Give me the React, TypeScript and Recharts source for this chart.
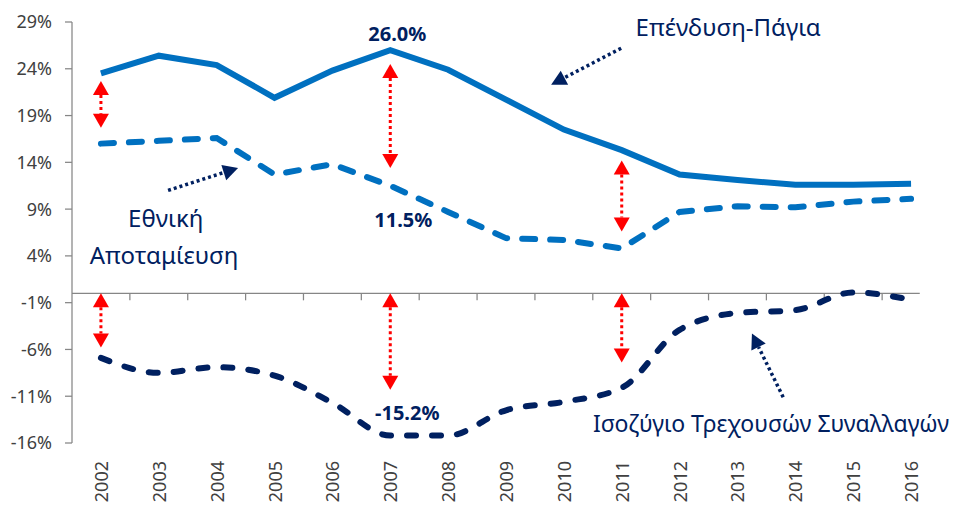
import React from 'react';
import { LineChart, Line, XAxis, YAxis, ReferenceLine, ReferenceDot } from 'recharts';

const YEARS = [2002, 2003, 2004, 2005, 2006, 2007, 2008, 2009, 2010, 2011, 2012, 2013, 2014, 2015, 2016];
// Επένδυση-Πάγια (% ΑΕΠ)
const INVESTMENT = [23.5, 25.4, 24.4, 20.9, 23.8, 26.0, 23.9, 20.7, 17.5, 15.3, 12.7, 12.1, 11.6, 11.6, 11.7];
// Εθνική Αποταμίευση
const SAVINGS = [16.0, 16.3, 16.6, 12.7, 13.8, 11.5, 8.7, 5.9, 5.7, 4.8, 8.7, 9.3, 9.2, 9.8, 10.1];
// Ισοζύγιο Τρεχουσών Συναλλαγών
const CURRENT_ACCOUNT = [-6.9, -8.5, -7.9, -8.8, -11.7, -15.2, -15.2, -12.5, -11.6, -10.1, -3.9, -2.1, -1.8, 0.1, -0.7];
const Y_TICKS = [-16, -11, -6, -1, 4, 9, 14, 19, 24, 29];

// red double arrows showing the gaps
const GAP_ARROWS = [
  { year: 2002, top: 22.7, bottom: 17.7 },
  { year: 2007, top: 24.5, bottom: 13.4 },
  { year: 2011, top: 14.2, bottom: 6.6 },
  { year: 2002, top: 0, bottom: -5.8 },
  { year: 2007, top: 0, bottom: -10.3 },
  { year: 2011, top: 0, bottom: -7.4 },
];

// dotted pointers from the labels to the lines
const POINTERS = [
  { x1: 2010.99, y1: 26.2, x2: 2009.78, y2: 22.3 },
  { x1: 2003.16, y1: 11.0, x2: 2004.37, y2: 13.4 },
  { x1: 2013.79, y1: -11.1, x2: 2013.25, y2: -4.3 },
];

const SERIES_NAMES = [
  { x: 2012.84, y: 27.5, text: 'Επένδυση-Πάγια', size: 24 },
  { x: 2003.12, y: 7.1, text: 'Εθνική', size: 24 },
  { x: 2003.09, y: 3.15, text: 'Αποταμίευση', size: 24 },
  { x: 2013.58, y: -14.8, text: 'Ισοζύγιο Τρεχουσών Συναλλαγών', size: 23 },
];

const VALUE_NOTES = [
  { values: INVESTMENT, year: 2007, dx: 7, dy: -9 },
  { values: SAVINGS, year: 2007, dx: 13, dy: 41 },
  { values: CURRENT_ACCOUNT, year: 2007, dx: 17, dy: -16 },
];

const data = YEARS.map((year, i) => ({
  year,
  investment: INVESTMENT[i],
  savings: SAVINGS[i],
  current: CURRENT_ACCOUNT[i],
}));

const FONT = '"Noto Sans", "Open Sans", sans-serif';
const BLUE = '#0070C0';
const NAVY = '#002060';
const GRID = '#868686';

const head = (fx: number, fy: number, tx: number, ty: number, len: number, half: number) => {
  const d = Math.hypot(tx - fx, ty - fy) || 1;
  const ux = (tx - fx) / d;
  const uy = (ty - fy) / d;
  const bx = tx - ux * len;
  const by = ty - uy * len;
  const pts = `${tx},${ty} ${bx - uy * half},${by + ux * half} ${bx + uy * half},${by - ux * half}`;
  return { bx, by, pts };
};

const DoubleArrow = (p: any) => {
  const a = head(p.x2, p.y2, p.x1, p.y1, 14, 8);
  const b = head(p.x1, p.y1, p.x2, p.y2, 14, 8);
  return (
    <g>
      <line x1={a.bx} y1={a.by} x2={b.bx} y2={b.by} stroke="#FF0000" strokeWidth={3} strokeDasharray="3 3" />
      <polygon points={a.pts} fill="#FF0000" />
      <polygon points={b.pts} fill="#FF0000" />
    </g>
  );
};

const Pointer = (p: any) => {
  const b = head(p.x1, p.y1, p.x2, p.y2, 15, 8);
  return (
    <g>
      <line x1={p.x1} y1={p.y1} x2={b.bx} y2={b.by} stroke={NAVY} strokeWidth={3.5} strokeDasharray="3 3" />
      <polygon points={b.pts} fill={NAVY} />
    </g>
  );
};

const YearTick = ({ x, y, payload }: any) => (
  <text
    x={x}
    y={y}
    transform={`rotate(-90, ${x}, ${y})`}
    textAnchor="end"
    dominantBaseline="central"
    fill="#404040"
    fontSize={18}
    fontFamily={FONT}
  >
    {payload.value}
  </text>
);

export default function App() {
  return (
    <div style={{ position: 'absolute', left: 0, top: 0, background: '#fff' }}>
      <LineChart width={959} height={506} data={data} margin={{ top: 22, right: 19, bottom: 0, left: 0 }}>
        <XAxis
          dataKey="year"
          type="number"
          domain={[2001.5, 2016.5]}
          ticks={YEARS}
          axisLine={false}
          tickLine={false}
          tickMargin={12}
          height={63}
          tick={<YearTick />}
        />
        <YAxis
          type="number"
          domain={[-16, 29]}
          ticks={Y_TICKS}
          width={72}
          tickSize={7}
          tickMargin={13}
          axisLine={{ stroke: GRID, strokeWidth: 1.25 }}
          tickLine={{ stroke: GRID, strokeWidth: 1.25 }}
          tick={{ fill: '#404040', fontSize: 18, fontFamily: FONT }}
          tickFormatter={(v: number) => `${v}%`}
        />
        <ReferenceLine
          segment={[{ x: 2001.5, y: 0 }, { x: 2016.15, y: 0 }]}
          stroke={GRID}
          strokeWidth={1.25}
        />
        {YEARS.slice(0, -1).map((yr) => (
          <ReferenceLine
            key={`t${yr}`}
            segment={[{ x: yr + 0.5, y: 0 }, { x: yr + 0.5, y: -0.75 }]}
            stroke={GRID}
            strokeWidth={1.25}
          />
        ))}
        <Line
          dataKey="investment"
          type="linear"
          stroke={BLUE}
          strokeWidth={6}
          dot={false}
          isAnimationActive={false}
        />
        <Line
          dataKey="savings"
          type="linear"
          stroke={BLUE}
          strokeWidth={6}
          strokeDasharray="13 15"
          strokeLinecap="round"
          dot={false}
          isAnimationActive={false}
        />
        <Line
          dataKey="current"
          type="monotone"
          stroke={NAVY}
          strokeWidth={6}
          strokeDasharray="9 16"
          strokeLinecap="round"
          dot={false}
          isAnimationActive={false}
        />
        {GAP_ARROWS.map((g, i) => (
          <ReferenceLine
            key={`g${i}`}
            segment={[{ x: g.year, y: g.top }, { x: g.year, y: g.bottom }]}
            shape={DoubleArrow}
          />
        ))}
        {POINTERS.map((p, i) => (
          <ReferenceLine
            key={`p${i}`}
            segment={[{ x: p.x1, y: p.y1 }, { x: p.x2, y: p.y2 }]}
            shape={Pointer}
          />
        ))}
        {SERIES_NAMES.map((n, i) => (
          <ReferenceDot
            key={`n${i}`}
            x={n.x}
            y={n.y}
            ifOverflow="visible"
            shape={(p: any) => (
              <text x={p.cx} y={p.cy} textAnchor="middle" fill={NAVY} fontSize={n.size} fontFamily={FONT}>
                {n.text}
              </text>
            )}
          />
        ))}
        {VALUE_NOTES.map((v, i) => {
          const val = v.values[YEARS.indexOf(v.year)];
          return (
            <ReferenceDot
              key={`v${i}`}
              x={v.year}
              y={val}
              shape={(p: any) => (
                <text
                  x={p.cx + v.dx}
                  y={p.cy + v.dy}
                  textAnchor="middle"
                  fill={NAVY}
                  fontSize={20}
                  fontWeight="bold"
                  fontFamily={FONT}
                >
                  {`${val.toFixed(1)}%`}
                </text>
              )}
            />
          );
        })}
      </LineChart>
    </div>
  );
}
